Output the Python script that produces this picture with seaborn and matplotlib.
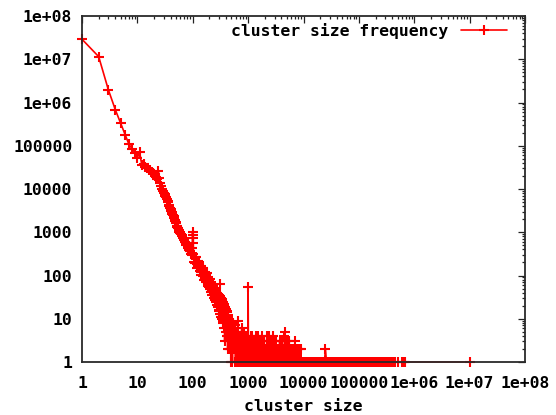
import matplotlib
matplotlib.use("Agg")
import matplotlib.pyplot as plt
import matplotlib.ticker as mticker
import numpy as np
import pandas as pd
import seaborn as sns

# Frequency of each cluster size (sizes 1..28 individually)
head_size = [1, 2, 3, 4, 5, 6, 7, 8, 9, 10, 11, 12, 13, 14, 15, 16, 17, 18, 19, 20,
             21, 22, 23, 24, 25, 26, 27, 28]
head_freq = [29000000, 11500000, 1950000, 680000, 330000, 180000, 110000, 85000, 69000, 53000,
             70000, 36000, 37000, 32000, 30000, 27000, 28000, 25000, 24000, 22000,
             20000, 19000, 17000, 26000, 18000, 14000, 12000, 10000]

# Power-law body, sizes 29..102
body_size = [29, 30, 31, 32, 33, 34, 35, 36, 37, 38, 39, 40, 41, 42, 43, 44, 45, 46, 47, 48,
             49, 50, 51, 52, 53, 54, 55, 56, 57, 58, 59, 60,
             61, 63, 65, 67, 69, 71, 73, 75, 77, 79, 81, 83, 85, 87, 89, 91, 93, 95, 97,
             98, 99, 100, 101, 102]
body_freq = [9100, 8200, 7600, 6900, 6600, 5800, 5300, 4900, 4200, 4100, 3700, 3400, 3100, 2900,
             2600, 2450, 2400, 2100, 1950, 1800, 1700, 1600, 1390, 1420, 1330, 1270, 1280, 1140,
             1010, 1040, 980, 950,
             920, 860, 820, 740, 670, 610, 590, 560, 520, 500, 470, 430, 380, 385, 360, 360,
             320, 310, 295,
             440, 1000, 850, 570, 730]

# Noisier part of the body, sizes 103..199
knee_size = [103, 106, 109, 112, 115, 118, 121, 124, 127, 130, 133, 136, 139, 142, 145,
             148, 151, 154, 157, 160, 163, 166, 169, 172, 175, 178, 181, 184, 187, 190,
             193, 196, 199]
knee_freq = [318, 200, 264, 194, 270, 185, 146, 214, 169, 204, 130, 170, 104, 169, 122,
             148, 98, 148, 96, 108, 78, 120, 86, 101, 71, 112, 71, 88, 58, 90,
             65, 74, 54]

# Low-count part of the body, sizes 202..497
low_size = [202, 207, 212, 217, 222, 227, 232, 237, 242, 247,
            252, 257, 262, 267, 272, 277, 282, 287, 292, 297,
            302, 307, 312, 317, 322, 327, 332, 337, 342, 347,
            352, 357, 362, 367, 372, 377, 382, 387, 392, 397,
            402, 407, 412, 417, 422, 427, 432, 437, 442, 447,
            452, 457, 462, 467, 472, 477, 482, 487, 492, 497]
low_freq = [82, 48, 70, 41, 64, 36, 58, 52, 30, 50,
            27, 46, 24, 44, 21, 40, 19, 38, 16, 35,
            15, 33, 62, 13, 30, 11, 28, 10, 26, 9,
            24, 8, 22, 6, 20, 3, 19, 6, 17, 5,
            16, 4, 15, 4, 14, 2, 12, 3, 11, 3,
            10, 2, 9, 3, 8, 2, 7, 1, 7, 2]

# Sparse region, sizes 500..10000
mid_size = [506, 513, 521, 530, 539, 548, 557, 567, 578, 587, 596, 605, 615, 626, 638, 648,
            658, 669, 680, 692, 705, 716, 727, 740, 753, 765, 777, 791, 805, 817, 830, 844,
            858, 873, 889, 903, 917, 933, 950, 965, 980, 990, 1000, 1015, 1031, 1047, 1066,
            1085, 1102, 1119, 1139, 1159, 1177, 1196, 1217, 1239, 1259, 1279, 1301, 1324,
            1345, 1367, 1391, 1415, 1438, 1461, 1486, 1512, 1536, 1561, 1588, 1616, 1642,
            1669, 1698, 1727, 1755, 1784, 1815, 1846, 1876, 1906, 1939, 1973, 2005, 2037,
            2072, 2108, 2143, 2178, 2215, 2253, 2290, 2327, 2367, 2408, 2447, 2487, 2530,
            2573, 2615, 2658, 2704, 2750, 2795, 2841, 2890, 2939, 2987, 3036, 3088, 3141,
            3193, 3245, 3300, 3356, 3412, 3468, 3527, 3587, 3646, 3706, 3769, 3833, 3897,
            3961, 4029, 4097, 4165, 4233, 4305, 4378, 4451, 4524, 4601, 4679, 4757, 4835,
            4918, 5001, 5084, 5168, 5256, 5344, 5433, 5523, 5617, 5711, 5806, 5902, 6003,
            6104, 6206, 6308, 6415, 6523, 6632, 6741, 6856, 6971, 7088, 7205, 7327, 7450,
            7575, 7700, 7831, 7962, 8095, 8229, 8369, 8509, 8652, 8795, 8944, 9094, 9246,
            9399, 9558, 9719, 9881]
mid_freq = [6, 3, 1, 8, 5, 2, 2, 6, 7, 1, 1, 5, 4, 2, 1, 9,
            5, 1, 2, 4, 1, 3, 4, 1, 1, 6, 3, 2, 1, 4, 5, 1,
            1, 3, 2, 2, 1, 4, 3, 1, 1, 2, 55, 1, 2, 3, 1,
            1, 3, 4, 1, 1, 4, 2, 2, 1, 1, 3, 3, 1,
            2, 4, 1, 1, 3, 2, 1, 1, 4, 3, 1, 1, 2,
            2, 3, 1, 1, 4, 2, 1, 1, 3, 3, 1, 1, 2,
            2, 1, 1, 4, 3, 1, 1, 2, 4, 1, 1, 3, 2,
            1, 1, 2, 3, 1, 1, 4, 2, 1, 1, 2, 3, 3,
            1, 1, 2, 1, 1, 2, 2, 1, 1, 3, 2, 1, 1,
            3, 3, 1, 1, 2, 2, 1, 1, 4, 5, 1, 1, 3,
            2, 1, 1, 3, 1, 1, 2, 3, 1, 1, 2, 1, 1,
            2, 1, 2, 1, 1, 2, 2, 1, 3, 1, 2, 1, 1,
            2, 1, 1, 2, 1, 1, 1, 1, 2, 1, 2, 1, 1,
            1, 1, 1, 1]

# Large clusters seen once / twice
once_size = [10000, 10400, 10900, 11300, 11800, 12300, 12800, 13400, 13900, 14500,
             15100, 15800, 16400, 17100, 17900, 18600, 19400, 20200, 21100, 22000,
             22900, 23900, 26000, 27100, 28200, 29400, 30700, 32000, 33300, 34700,
             36200, 37800, 39400, 41000, 42800, 44600, 46500, 48500, 50500, 52700,
             54900, 57200, 61000, 63600, 66300, 69100, 72000, 75100, 78300, 81600,
             85100, 88700, 92400, 96400, 100500, 104700, 109200, 113800, 118700, 123700,
             129000, 134400, 140200, 146100, 152300, 158800, 165500, 172600, 179900, 190000,
             203000, 212000, 230000, 241000, 252000, 263000, 275000, 297000, 321000, 333000,
             352000, 369000, 381000, 412000, 452000, 512000, 600000, 650000, 680000, 10000000]
twice_size = [24900]

x_ticks = [1, 10, 100, 1000, 10000, 100000, 1e6, 1e7, 1e8]
x_labels = ["1", "10", "100", "1000", "10000", "100000", "1e+06", "1e+07", "1e+08"]
y_ticks = [1, 10, 100, 1000, 10000, 100000, 1e6, 1e7, 1e8]
y_labels = ["1", "10", "100", "1000", "10000", "100000", "1e+06", "1e+07", "1e+08"]

sizes = head_size + body_size + knee_size + low_size + mid_size + once_size + twice_size
freqs = (head_freq + body_freq + knee_freq + low_freq + mid_freq
         + [1] * len(once_size) + [2] * len(twice_size))
df = pd.DataFrame({"size": sizes, "freq": freqs}).sort_values("size")

sns.set_style("white")
plt.rcParams["font.family"] = ["DejaVu Sans Mono", "DejaVu Sans"]
plt.rcParams["font.weight"] = "bold"
plt.rcParams["text.color"] = "black"
plt.rcParams["xtick.color"] = "black"
plt.rcParams["ytick.color"] = "black"
plt.rcParams["axes.labelcolor"] = "black"

fig = plt.figure(figsize=(5.56, 4.15), dpi=100)
ax = fig.add_axes([82 / 556, 1 - 362 / 415, (525 - 82) / 556, (362 - 16) / 415])

sns.lineplot(data=df, x="size", y="freq", ax=ax, estimator=None, sort=True,
             color="#ff0000", linewidth=1.2, marker="+", markersize=7.5,
             markeredgewidth=1.5, markeredgecolor="#ff0000",
             label="cluster size frequency", clip_on=False, zorder=2)

ax.set_xscale("log")
ax.set_yscale("log")
ax.set_xlim(1, 1e8)
ax.set_ylim(1, 1e8)

fs = 11.8
ax.set_xticks(x_ticks)
ax.set_xticklabels(x_labels, fontsize=fs, fontweight="bold", color="black")
ax.set_yticks(y_ticks)
ax.set_yticklabels(y_labels, fontsize=fs, fontweight="bold", color="black")
ax.xaxis.set_minor_locator(mticker.LogLocator(base=10, subs=np.arange(2, 10), numticks=100))
ax.yaxis.set_minor_locator(mticker.LogLocator(base=10, subs=np.arange(2, 10), numticks=100))
ax.xaxis.set_minor_formatter(mticker.NullFormatter())
ax.yaxis.set_minor_formatter(mticker.NullFormatter())

ax.tick_params(which="both", direction="in", top=True, right=True, color="#222222", width=0.9)
ax.tick_params(which="major", length=5)
ax.tick_params(which="minor", length=2.5)
ax.tick_params(axis="x", which="major", pad=10)
ax.tick_params(axis="y", which="major", pad=7)

for sp in ax.spines.values():
    sp.set_color("#2a2a2a")
    sp.set_linewidth(1.3)
    sp.set_zorder(3)

ax.set_xlabel("cluster size", fontsize=fs, fontweight="bold", labelpad=6, color="black")
ax.set_ylabel("")

leg = ax.legend(loc="upper right", bbox_to_anchor=(0.9736, 1.0), borderaxespad=0.0,
                frameon=False, markerfirst=False, handlelength=2.8, handletextpad=0.75,
                prop={"size": fs, "weight": "bold"})
for t in leg.get_texts():
    t.set_color("black")

fig.savefig("out.png", dpi=100, facecolor="white")
